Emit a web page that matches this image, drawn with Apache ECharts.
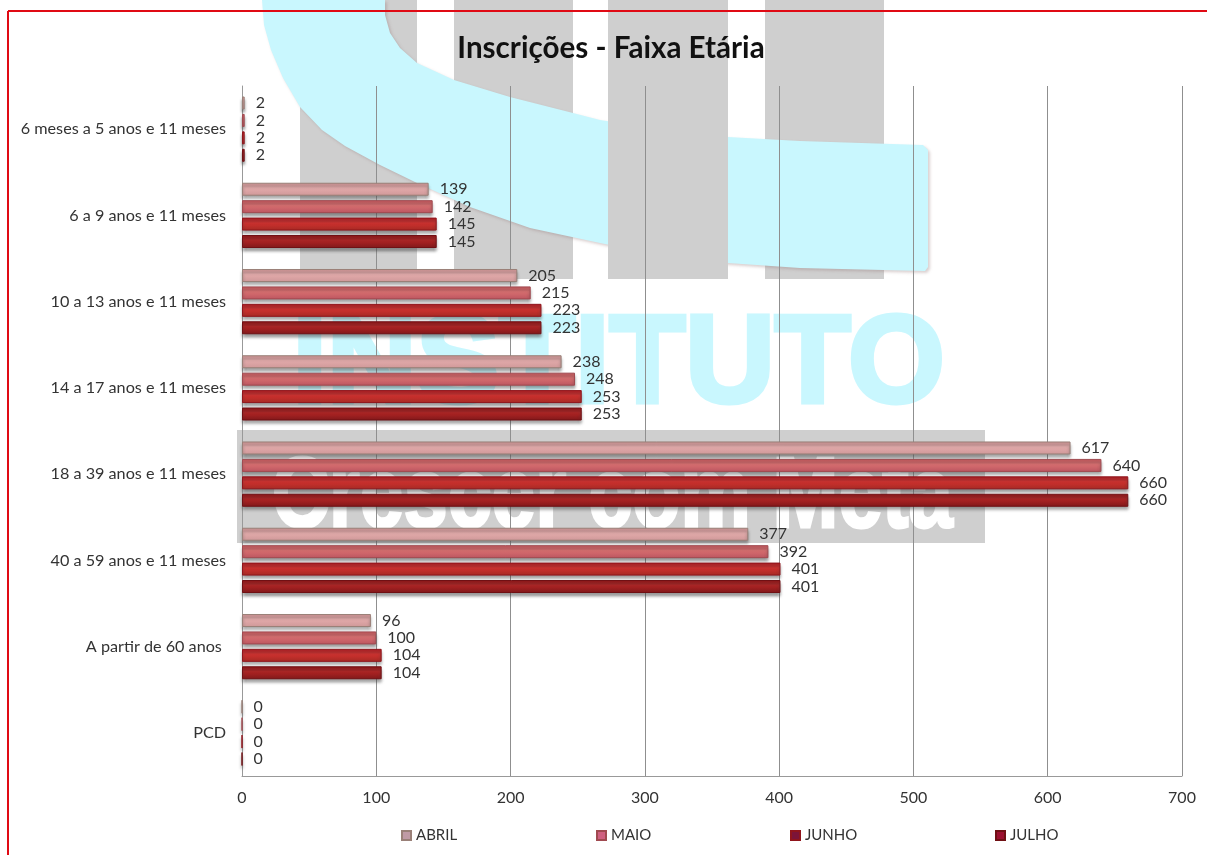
<!DOCTYPE html>
<html><head><meta charset="utf-8">
<style>html,body{margin:0;padding:0;background:#fff}#c{width:1207px;height:855px}</style>
<script src="https://cdn.jsdelivr.net/npm/echarts@6/dist/echarts.min.js"></script>
</head><body><div id="c"></div>
<script>
const categories = ['6 meses a 5 anos e 11 meses','6 a 9 anos e 11 meses','10 a 13 anos e 11 meses','14 a 17 anos e 11 meses','18 a 39 anos e 11 meses','40 a 59 anos e 11 meses','A partir de 60 anos ','PCD'];
const abril = [2,139,205,238,617,377,96,0];
const maio  = [2,142,215,248,640,392,100,0];
const junho = [2,145,223,253,660,401,104,0];
const julho = [2,145,223,253,660,401,104,0];
const seriesNames = ['ABRIL','MAIO','JUNHO','JULHO'];
const seriesValues = [abril,maio,junho,julho];
const barStops = [['#c98f90','#e3abab','#cf9899'],['#c0555a','#d96f70','#bb5560'],['#a81c22','#d0312f','#a52a24'],['#8a1416','#b02424','#80181a']];
const barEdges = ['#9a8078','#a04a50','#90151c','#701014'];
const legendColors = ['#c09aa5','#cf6080','#7c1438','#9c1030'];
const legendLefts = [396,591,785,990];
const font = 'Lato';
const chart = echarts.init(document.getElementById('c'));
const wm = (o)=>Object.assign({silent:true,z:-10},o);
const gray = '#cfcfcf', cyan = '#c9f7fe';
const rect = (x,y,w,h,fill,z)=>wm({type:'rect',z:z||-10,shape:{x,y,width:w,height:h},style:{fill}});
const bandOutline = [[262,0],[264,25],[271,50],[283,78],[300,107],[322,130],[345,146],[380,165],[417,183],[470,207],[530,228],[600,243],[665,256],[728,263],[800,268],[925,271],[928,267],[928,150],[923,145],[800,141],[728,137],[665,130],[600,120],[573,113],[510,97],[454,80],[417,63],[400,48],[390,33],[385,15],[385,0]];
chart.setOption({
  animation:false,
  backgroundColor:'#fff',
  title:{text:'Inscrições - Faixa Etária',left:606,top:28,textAlign:'center',textStyle:{fontFamily:font,fontSize:29.6,fontWeight:'bold',color:'#111'}},
  grid:{left:242,right:25,top:86,bottom:79},
  xAxis:{type:'value',min:0,max:700,interval:100,
    axisLine:{show:true,lineStyle:{color:'#999'}},axisTick:{show:false},
    axisLabel:{margin:14,fontFamily:font,fontSize:16,color:'#333'},
    splitLine:{show:true,lineStyle:{color:'#8f8f8f',width:1}}},
  yAxis:{type:'category',inverse:true,data:categories,
    axisLine:{show:true,lineStyle:{color:'#999'}},axisTick:{show:false},
    axisLabel:{margin:16,fontFamily:font,fontSize:16.2,color:'#333'}},
  legend:seriesNames.map((n,i)=>({left:legendLefts[i],top:823,itemWidth:9,itemHeight:9,itemGap:5,icon:'rect',
    data:[{name:n,itemStyle:{color:legendColors[i]}}],textStyle:{fontFamily:font,fontSize:15,color:'#333'}})),
  series:seriesNames.map((n,i)=>({name:n,type:'bar',data:seriesValues[i],barWidth:13,barGap:'34%',
    itemStyle:{color:new echarts.graphic.LinearGradient(0,0,0,1,[{offset:0,color:barStops[i][0]},{offset:.4,color:barStops[i][1]},{offset:1,color:barStops[i][2]}]),
      borderColor:barEdges[i],borderWidth:1,shadowColor:'rgba(60,60,60,.55)',shadowBlur:3,shadowOffsetY:3},
    label:{show:true,position:'right',distance:11,fontFamily:font,fontSize:16,color:'#333'}})),
  graphic:{elements:[
    rect(300,0,117,279,gray),rect(454,0,119,279,gray),rect(765,0,119,279,gray),
    wm({type:'polygon',z:-9,shape:{points:bandOutline},style:{fill:cyan,shadowColor:'rgba(150,120,120,.35)',shadowBlur:3,shadowOffsetX:2,shadowOffsetY:2}}),
    rect(608,0,120,279,gray,-8),
    wm({type:'text',z:-9,left:290,top:303,style:{text:'INSTITUTO',font:'bold 124px "Liberation Sans"',fill:cyan,stroke:cyan,lineWidth:5}}),
    rect(237,430,748,113,gray,-8),
    wm({type:'text',z:-7,x:272,y:449,scaleX:0.79,style:{text:'Crescer com Meta',font:'bold 100px "Liberation Sans"',fill:'#fff',stroke:'#fff',lineWidth:3}}),
    {type:'line',silent:true,z:50,shape:{x1:8,y1:11,x2:1207,y2:11},style:{stroke:'#e00a14',lineWidth:2}},
    {type:'line',silent:true,z:50,shape:{x1:8,y1:11,x2:8,y2:855},style:{stroke:'#e00a14',lineWidth:2}}
  ]}
});
</script></body></html>
